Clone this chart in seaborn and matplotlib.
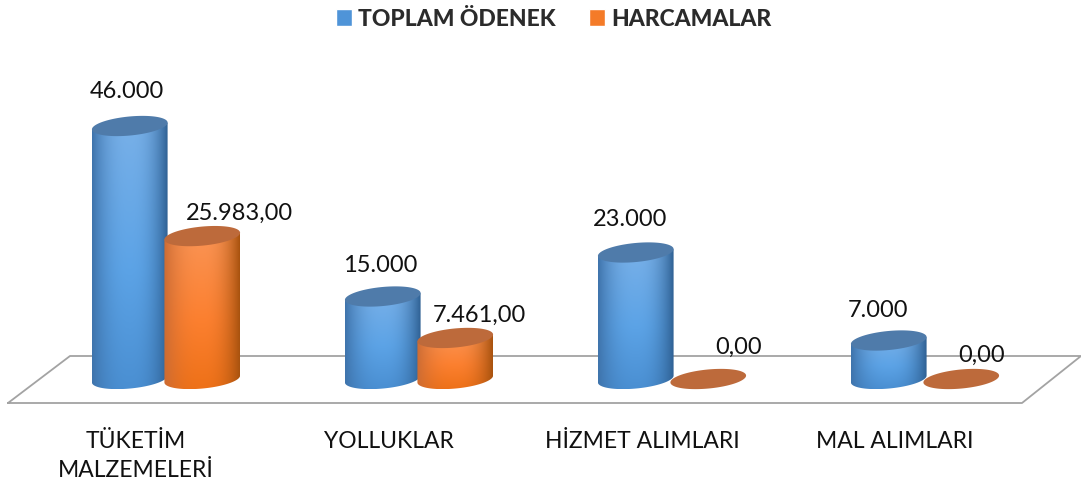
import numpy as np
import pandas as pd
import matplotlib.pyplot as plt
from matplotlib.patches import Polygon
import seaborn as sns

# Chart data
categories = ["TÜKETİM\nMALZEMELERİ", "YOLLUKLAR", "HİZMET ALIMLARI", "MAL ALIMLARI"]
series_names = ["TOPLAM ÖDENEK", "HARCAMALAR"]
toplam_odenek = [46000, 15000, 23000, 7000]
harcamalar = [25983, 7461, 0, 0]
toplam_labels = ["46.000", "15.000", "23.000", "7.000"]
harcama_labels = ["25.983,00", "7.461,00", "0,00", "0,00"]

# Label offsets from the bar top, in pixels
toplam_offsets = [(-3, 34), (-3, 31), (-6, 33), (-11, 30)]
harcama_offsets = [(37, 23), (24, 23), (30, 32), (20, 24)]

W, H = 1081, 483
df = pd.DataFrame({
    "kalem": categories * 2,
    "seri": [series_names[0]] * 4 + [series_names[1]] * 4,
    "tutar": toplam_odenek + harcamalar,
})

sns.set_theme(style="white")
plt.rcParams["font.family"] = ["Lato", "DejaVu Sans"]

fig = plt.figure(figsize=(W / 100, H / 100), dpi=100)
ax = fig.add_axes([0, (H - 425) / H, 1, 425 / H])
ax.patch.set_visible(False)

sns.barplot(data=df, x="kalem", y="tutar", hue="seri", palette=["#4F94D8", "#F47B28"],
            width=0.573, gap=0, saturation=1, ax=ax)

# 253 px between groups, 5.5 px per 1000
px_x = 1 / 253
px_y = 1000 / 5.5
ax.set_xlim(-166 * px_x, (W - 166) * px_x)
ax.set_ylim(-46 * px_y, 379 * px_y)

sns.despine(ax=ax, left=True, bottom=True)
ax.set_xlabel("")
ax.set_ylabel("")
ax.set_yticks([])
ax.set_xticks(np.arange(4) - 30 * px_x)
ax.set_xticklabels(categories, fontsize=16.5, color="#111111", linespacing=1.5)
ax.tick_params(axis="x", length=0, pad=4)

# Floor of the 3D chart
floor_px = [(8, 403), (1022, 403), (1081, 356), (70, 356), (8, 403)]
ax.plot([p[0] / W for p in floor_px], [1 - p[1] / H for p in floor_px],
        transform=fig.transFigure, color="#A3A3A3", lw=1.3, clip_on=False, zorder=0)


def ellipse_points(a=38.0, b=9.5, angle=5.5):
    t = np.linspace(0, 2 * np.pi, 181)[:-1]
    th = np.radians(angle)
    x = a * np.cos(t) * np.cos(th) - b * np.sin(t) * np.sin(th)
    y = a * np.cos(t) * np.sin(th) + b * np.sin(t) * np.cos(th)
    return x, y


def body_outline(cx, top, bottom):
    ex, ey = ellipse_points()
    pts = np.column_stack([ex, ey])
    left = pts[np.argmin(ex)]
    right = pts[np.argmax(ex)]
    lower = pts[ey < left[1] + (right[1] - left[1]) * (ex - left[0]) / (right[0] - left[0])]
    lower = lower[np.argsort(lower[:, 0])]
    out = [(cx + left[0] * px_x, top + left[1] * px_y), (cx + left[0] * px_x, bottom + left[1] * px_y)]
    out += [(cx + p[0] * px_x, bottom + p[1] * px_y) for p in lower]
    out += [(cx + right[0] * px_x, bottom + right[1] * px_y), (cx + right[0] * px_x, top + right[1] * px_y)]
    return out


def gradient(top_c, mid_c, low_c, left_c, right_c):
    u = np.linspace(-1, 1, 80)
    v = np.linspace(0, 1, 200)
    center = np.stack([np.interp(v, [0, 0.55, 1], [top_c[i], mid_c[i], low_c[i]]) for i in range(3)], axis=1)
    shade = 1 - np.abs(u) ** 2.4
    img = np.zeros((200, 80, 3))
    for i in range(3):
        edge = np.where(u < 0, left_c[i], right_c[i])
        img[:, :, i] = edge + (center[:, i][:, None] - edge) * shade
    return img


def rgb(code):
    return np.array(plt.matplotlib.colors.to_rgb(code))


blue = [rgb(c) for c in ["#78B0E8", "#5CA3E6", "#4A8FD2", "#3F74AC", "#2F6194"]]
orange = [rgb(c) for c in ["#FA9455", "#FC8030", "#EE7118", "#CC6C34", "#A9530F"]]
cap_colors = ["#4F7BAA", "#BD6A3B"]
gradients = [gradient(*blue), gradient(*orange)]
all_labels = [toplam_labels, harcama_labels]
all_offsets = [toplam_offsets, harcama_offsets]

# Round the seaborn bars into cylinders
for s, container in enumerate(ax.containers):
    for i, bar in enumerate(container):
        bar.set_visible(False)
        cx = bar.get_x() + bar.get_width() / 2
        top = bar.get_height()
        z = 3 + s if top > 0 else 2.5
        if top > 0:
            outline = body_outline(cx, top, 0)
            xs = [p[0] for p in outline]
            ys = [p[1] for p in outline]
            im = ax.imshow(gradients[s], extent=(min(xs), max(xs), min(ys), max(ys)),
                           aspect="auto", interpolation="bilinear", zorder=z)
            im.set_clip_path(Polygon(outline, transform=ax.transData))
        ex, ey = ellipse_points()
        ax.add_patch(Polygon(np.column_stack([cx + ex * px_x, top + ey * px_y]),
                             facecolor=cap_colors[s], edgecolor="none", zorder=z + 0.1))
        dx, dy = all_offsets[s][i]
        ax.text(cx + dx * px_x, top + dy * px_y, all_labels[s][i], ha="center", va="center",
                fontsize=17, color="#111111", zorder=10)

sns.move_legend(ax, "center", bbox_to_anchor=(553.5 / W, 1 - 19 / H), bbox_transform=fig.transFigure,
                ncol=2, frameon=False, title=None, prop={"weight": "black", "size": 16.5},
                labelcolor="#2B2B2B", handlelength=0.7, handleheight=0.7,
                handletextpad=0.26, columnspacing=1.45, borderpad=0, borderaxespad=0)

fig.savefig("out.png", dpi=100)
